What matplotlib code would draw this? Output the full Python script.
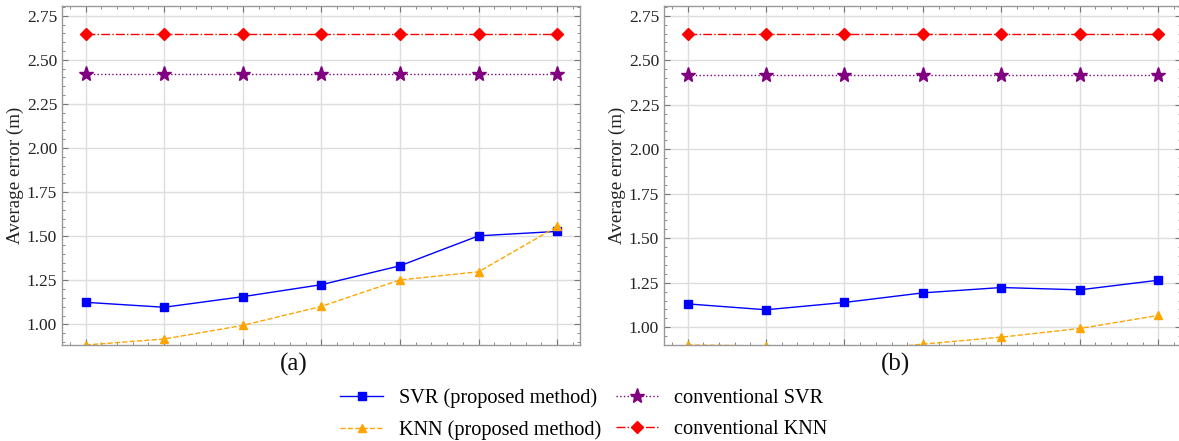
import matplotlib
matplotlib.use("Agg")
import matplotlib.pyplot as plt
from matplotlib.ticker import MultipleLocator, NullFormatter

plt.rcParams['font.family'] = ['Liberation Serif', 'DejaVu Serif']

x = [0, 1, 2, 3, 4, 5, 6]

# panel (a)
svr_a = [1.125, 1.097, 1.157, 1.225, 1.332, 1.502, 1.527]
knn_a = [0.883, 0.917, 0.994, 1.102, 1.252, 1.298, 1.555]
conv_svr_a = [2.42] * 7
conv_knn_a = [2.645] * 7

# panel (b)
svr_b = [1.131, 1.098, 1.139, 1.193, 1.223, 1.210, 1.264]
knn_b = [0.900, 0.895, 0.860, 0.905, 0.944, 0.993, 1.066]
conv_svr_b = [2.42] * 7
conv_knn_b = [2.645] * 7

labels = ["SVR (proposed method)", "KNN (proposed method)",
          "conventional SVR", "conventional KNN"]
panel_names = ["(a)", "(b)"]

W, H = 1179, 441
fig = plt.figure(figsize=(W / 100, H / 100), dpi=100)
ax_a = fig.add_axes([62 / W, (H - 345) / H, 518 / W, 339 / H])
ax_b = fig.add_axes([664 / W, (H - 345) / H, 517 / W, 339 / H])

panels = [
    (ax_a, svr_a, knn_a, conv_svr_a, conv_knn_a, 0.883, 294),
    (ax_b, svr_b, knn_b, conv_svr_b, conv_knn_b, 0.900, 896),
]

handles = None
for i, (ax, svr, knn, csvr, cknn, ymin, xlab) in enumerate(panels):
    h1, = ax.plot(x, svr, '-', color='#0000ff', lw=1.0, marker='s', ms=6)
    h2, = ax.plot(x, knn, '--', color='#ffa500', lw=1.0, marker='^', ms=6)
    h3, = ax.plot(x, csvr, ':', color='#800080', lw=1.0, marker='*', ms=11)
    h4, = ax.plot(x, cknn, '-.', color='#ff0000', lw=1.0, marker='D', ms=6)
    handles = [h1, h2, h3, h4]

    ax.set_xlim(-0.3, 6.29)
    ax.set_ylim(ymin, 2.805)
    ax.xaxis.set_major_locator(MultipleLocator(1))
    ax.xaxis.set_minor_locator(MultipleLocator(0.2))
    ax.xaxis.set_major_formatter(NullFormatter())
    ax.yaxis.set_major_locator(MultipleLocator(0.25))
    ax.yaxis.set_minor_locator(MultipleLocator(0.05))
    ax.tick_params(which='both', direction='in', top=True, right=True,
                   colors='#777777', labelcolor='#222222', labelsize=12.5)
    ax.tick_params(which='major', length=4)
    ax.tick_params(which='minor', length=2)
    ax.grid(True, which='major', color='#dddddd', lw=1.0)
    ax.set_axisbelow(True)
    for s in ax.spines.values():
        s.set_color('#999999')
        s.set_linewidth(1.0)
    ax.set_ylabel("Average error (m)", fontsize=13.7, color='#222222', labelpad=2)
    fig.text(xlab / W, (H - 364) / H, panel_names[i], fontsize=18,
             ha='center', va='center', color='#111111')

fig.legend(handles, labels, ncol=2, loc='center',
           bbox_to_anchor=(584 / W, (H - 414) / H),
           frameon=False, fontsize=14.6, handlelength=2.1, columnspacing=0.7,
           labelspacing=0.6, handletextpad=0.8)

fig.savefig("out.png", dpi=100)
